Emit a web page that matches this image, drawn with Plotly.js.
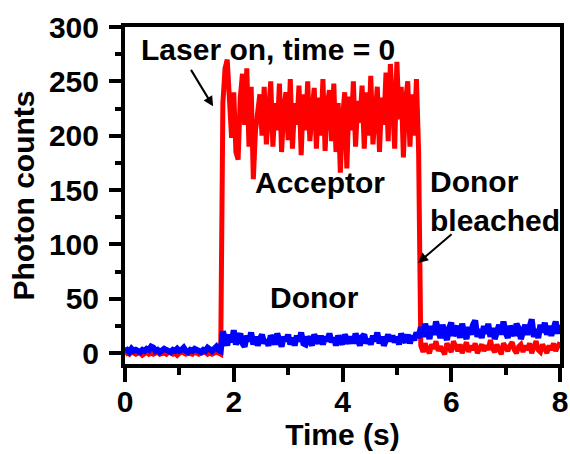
<!DOCTYPE html>
<html>
<head>
<meta charset="utf-8">
<script src="https://cdn.plot.ly/plotly-3.0.1.min.js"></script>
<style>html,body{margin:0;padding:0;background:#fff;}#chart{width:570px;height:454px;}</style>
</head>
<body>
<div id="chart"></div>
<script>
// Time bins (s)
const timePre = [0,0.04,0.08,0.12,0.16,0.2,0.24,0.28,0.32,0.36,0.4,0.44,0.48,0.52,0.56,0.6,0.64,0.68,0.72,0.76,0.8,0.84,0.88,0.92,0.96,1,1.04,1.08,1.12,1.16,1.2,1.24,1.28,1.32,1.36,1.4,1.44,1.48,1.52,1.56,1.6,1.64,1.68,1.72,1.76];
const timeLaser = [1.8,1.84,1.88,1.92,1.96,2,2.04,2.08,2.12,2.16,2.2,2.24,2.28,2.32,2.36,2.4,2.44,2.48,2.52,2.56,2.6,2.64,2.68,2.72,2.76,2.8,2.84,2.88,2.92,2.96,3,3.04,3.08,3.12,3.16,3.2,3.24,3.28,3.32,3.36,3.4,3.44,3.48,3.52,3.56,3.6,3.64,3.68,3.72,3.76,3.8,3.84,3.88,3.92,3.96,4,4.04,4.08,4.12,4.16,4.2,4.24,4.28,4.32,4.36,4.4,4.44,4.48,4.52,4.56,4.6,4.64,4.68,4.72,4.76,4.8,4.84,4.88,4.92,4.96,5,5.04,5.08,5.12,5.16,5.2,5.24,5.28,5.32,5.36,5.4];
const timePost = [5.44,5.48,5.52,5.56,5.6,5.64,5.68,5.72,5.76,5.8,5.84,5.88,5.92,5.96,6,6.04,6.08,6.12,6.16,6.2,6.24,6.28,6.32,6.36,6.4,6.44,6.48,6.52,6.56,6.6,6.64,6.68,6.72,6.76,6.8,6.84,6.88,6.92,6.96,7,7.04,7.08,7.12,7.16,7.2,7.24,7.28,7.32,7.36,7.4,7.44,7.48,7.52,7.56,7.6,7.64,7.68,7.72,7.76,7.8,7.84,7.88,7.92,7.96,8];

// Acceptor (red) photon counts
const acceptorPre = [-1,0,-1,1,0,-1,0,0,-2,0, 1,-1,0,-1,0,1,-1,0,0,-1, 1,0,-1,0,-2,0,1,0,-1,0, 0,-1,1,0,-1,0,0,1,-1,0, -1,0,1,0,-1];
const acceptorLaser = [230,262,270,225,198,240,185,178,235,257, 210,262,190,245,160,205,225,238,200,245, 192,215,250,190,230,205,248,185,225,240, 196,252,188,230,210,246,182,238,205,250, 195,222,244,188,235,200,252,186,228,242, 195,248,185,230,166,215,240,170,236,205, 250,190,232,212,246,188,240,200,255,192, 228,245,185,235,210,258,195,266,230,188, 268,215,245,180,232,250,190,238,200,252, 185];
const acceptorPost = [7,1,9,3,0,8,4,11,2,6, 3,-1,9,5,1,11,6,2,8,0, 5,10,1,7,3,9,0,5,8,2, 7,3,12,4,1,8,3,-1,9,5, 2,7,10,3,0,6,8,1,7,3, 9,0,5,11,3,1,8,4,0,7, 3,9,2,6,10];

// Donor (blue) photon counts
const donorPre = [2,3,1,4,2,3,2,1,3,2, 4,3,6,5,2,3,1,2,4,3, 2,1,3,2,4,2,3,5,2,1, 3,2,4,3,2,1,3,2,5,3, 2,4,6,3,2];
const donorLaser = [20,13,7,17,10,21,8,14,18,9, 6,16,11,19,8,15,7,13,17,9, 12,7,16,13,8,18,10,6,15,11, 17,8,14,7,16,11,19,9,8,15, 12,7,17,13,9,16,8,15,11,18, 10,14,7,16,11,8,17,13,9,15, 9,18,11,7,15,17,9,13,8,16, 11,19,9,15,7,14,17,11,16,10, 15,8,18,13,10,17,9,16,12,19, 14];
const donorPost = [24,15,27,19,13,25,17,29,20,14, 26,18,12,23,28,16,21,25,14,27, 19,13,24,17,26,30,15,22,14,25, 18,27,15,23,13,21,26,17,29,19, 14,25,21,16,27,23,13,20,26,17, 23,31,15,22,14,26,19,28,17,25, 16,23,29,18,26];

const xTickVals = [0,2,4,6,8];
const yTickVals = [0,50,100,150,200,250,300];
const labels = {
  laser: 'Laser on, time = 0',
  acceptor: 'Acceptor',
  donor: 'Donor',
  bleached: 'Donor<br>bleached',
  xTitle: 'Time (s)',
  yTitle: 'Photon counts'
};

const time = timePre.concat(timeLaser, timePost);
const acceptor = acceptorPre.concat(acceptorLaser, acceptorPost);
const donor = donorPre.concat(donorLaser, donorPost);

const FONT = 'Liberation Sans, Arial, Helvetica, sans-serif';
const baseFont = {family: FONT, size: 30, color: '#000', weight: 'bold'};

const traces = [
  {x: time, y: acceptor, type: 'scatter', mode: 'lines', name: 'Acceptor',
   line: {color: '#ff0000', width: 5}},
  {x: time, y: donor, type: 'scatter', mode: 'lines', name: 'Donor',
   line: {color: '#0000ff', width: 6}}
];

const axisCommon = {
  showgrid: false, zeroline: false, showline: true, linecolor: '#000', linewidth: 4,
  mirror: true, ticks: 'outside', tickwidth: 4, tickcolor: '#000',
  tickfont: baseFont
};

const layout = {
  width: 570, height: 454,
  margin: {l: 125, r: 10, t: 27, b: 90},
  paper_bgcolor: '#fff', plot_bgcolor: '#fff',
  showlegend: false,
  font: baseFont,
  xaxis: Object.assign({}, axisCommon, {
    range: [0, 8], tickvals: xTickVals, ticklen: 14, ticklabelstandoff: -6,
    minor: {dtick: 1, ticks: 'outside', ticklen: 7, tickwidth: 4, tickcolor: '#000'},
    title: {text: labels.xTitle, font: baseFont, standoff: 4}
  }),
  yaxis: Object.assign({}, axisCommon, {
    range: [-10, 300], tickvals: yTickVals, ticklen: 12, ticklabelstandoff: 4,
    minor: {dtick: 25, ticks: 'outside', ticklen: 6, tickwidth: 4, tickcolor: '#000'},
    title: {text: labels.yTitle, font: baseFont, standoff: 6}
  }),
  annotations: [
    {x: 2.63, y: 279, xref: 'x', yref: 'y', text: labels.laser, showarrow: false, font: baseFont, xanchor: 'center', yanchor: 'middle'},
    {x: 1.62, y: 227, xref: 'x', yref: 'y', text: '', showarrow: true, ax: -23, ay: -38, arrowhead: 2, arrowsize: 1, arrowwidth: 2, arrowcolor: '#000', standoff: 0},
    {x: 3.59, y: 157, xref: 'x', yref: 'y', text: labels.acceptor, showarrow: false, font: baseFont, xanchor: 'center', yanchor: 'middle'},
    {x: 3.48, y: 51, xref: 'x', yref: 'y', text: labels.donor, showarrow: false, font: baseFont, xanchor: 'center', yanchor: 'middle'},
    {x: 5.57, y: 140, xref: 'x', yref: 'y', text: labels.bleached, showarrow: false, font: baseFont, xanchor: 'left', yanchor: 'middle', align: 'left'},
    {x: 5.39, y: 83, xref: 'x', yref: 'y', text: '', showarrow: true, ax: 35, ay: -30, arrowhead: 2, arrowsize: 1, arrowwidth: 2, arrowcolor: '#000', standoff: 0}
  ]
};

Plotly.newPlot('chart', traces, layout, {displayModeBar: false, staticPlot: true});
</script>
</body>
</html>
